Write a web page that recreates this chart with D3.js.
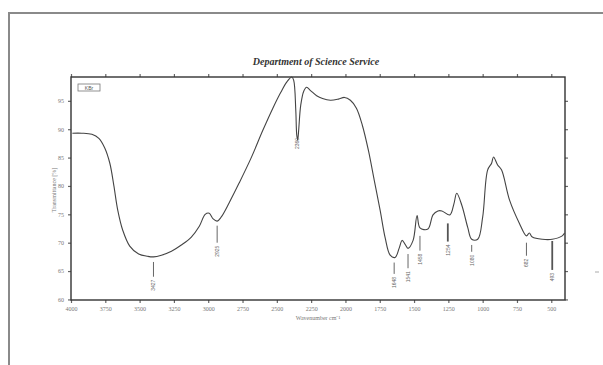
<!DOCTYPE html>
<html>
<head>
<meta charset="utf-8">
<script src="https://cdn.jsdelivr.net/npm/d3@7"></script>
<style>
  body { margin: 0; background: #fff; }
  svg { display: block; }
</style>
</head>
<body>
<div id="chart"></div>
<script>
// spectrum (wavenumber cm-1, transmittance %)
const wavenumber = [3990, 3920, 3848, 3797, 3754, 3717, 3688, 3659, 3623, 3572, 3507, 3442, 3399, 3341, 3268, 3196, 3123, 3065, 3022, 2993, 2964, 2935, 2906, 2848, 2775, 2688, 2602, 2529, 2471, 2428, 2391, 2377, 2362, 2355, 2348, 2341, 2326, 2304, 2283, 2254, 2210, 2167, 2109, 2051, 2007, 1964, 1920, 1877, 1833, 1790, 1747, 1710, 1674, 1638, 1609, 1587, 1565, 1544, 1507, 1478, 1457, 1399, 1362, 1326, 1297, 1239, 1210, 1189, 1152, 1109, 1080, 1036, 1000, 964, 935, 921, 891, 862, 804, 732, 681, 660, 638, 565, 493, 420, 403];
const transmittance = [89.3, 89.3, 89.1, 88.4, 86.7, 84.0, 80.1, 75.7, 72.2, 69.4, 68.0, 67.6, 67.5, 67.8, 68.5, 69.6, 71.0, 72.9, 75.0, 75.2, 74.2, 73.8, 74.5, 77.0, 80.5, 84.9, 89.8, 93.7, 96.5, 98.3, 99.2, 98.6, 93.4, 89.0, 88.1, 89.8, 94.2, 96.7, 97.4, 96.8, 95.9, 95.4, 95.1, 95.3, 95.6, 95.1, 93.7, 90.7, 86.3, 81.0, 75.7, 70.8, 67.8, 67.4, 69.0, 70.4, 69.7, 69.0, 70.4, 74.8, 72.6, 72.4, 74.9, 75.6, 75.6, 74.9, 76.8, 78.7, 76.6, 72.7, 70.6, 70.6, 74.5, 82.8, 84.0, 85.1, 83.7, 82.8, 77.5, 73.4, 71.2, 71.7, 71.0, 70.6, 70.6, 71.2, 71.7];

const xTicks = [4000, 3750, 3500, 3250, 3000, 2750, 2500, 2250, 2000, 1750, 1500, 1250, 1000, 750, 500];
const yTicks = [95, 90, 85, 80, 75, 70, 65, 60];

// peak labels: wavenumber, label, marker top/bottom in %
const peakWn = [3399, 2935, 2350, 1645, 1544, 1457, 1254, 1080, 681, 493];
const peakText = ["3427", "2925", "2360", "1648", "1541", "1458", "1254", "1080", "682", "493"];
const peakFrom = [66.6, 73.0, 89.0, 66.5, 68.0, 71.2, 73.4, 69.6, 70.0, 70.3];
const peakTo = [64.0, 70.0, 89.0, 64.5, 65.5, 68.6, 70.2, 68.4, 67.7, 65.2];

const W = 603, H = 365;
const svg = d3.select("#chart").append("svg")
  .attr("width", W).attr("height", H);

// scanned page frame
svg.append("path")
  .attr("d", "M9,365 L9,13 L603,13")
  .attr("fill", "none").attr("stroke", "#8a8a8a").attr("stroke-width", 2);

const pLeft = 71, pRight = 565, pTop = 77, pBottom = 300;
const x = d3.scaleLinear().domain([4000, 400]).range([pLeft, pRight]);
const y = d3.scaleLinear().domain([59.9, 99.2]).range([pBottom, pTop]);

svg.append("text")
  .attr("x", 316).attr("y", 65)
  .attr("text-anchor", "middle")
  .style("font-family", "Liberation Serif, serif")
  .style("font-style", "italic").style("font-weight", "bold")
  .style("font-size", "10px").attr("fill", "#333")
  .text("Department of Science Service");

const tickCol = "#666";
// bottom axis
svg.append("g").attr("transform", `translate(0,${pBottom})`)
  .call(d3.axisBottom(x).tickValues(xTicks).tickFormat(d3.format("d")).tickSize(3).tickPadding(4));
// top axis
svg.append("g").attr("transform", `translate(0,${pTop})`)
  .call(d3.axisTop(x).tickValues(xTicks).tickSize(3).tickFormat(""));
// left axis
svg.append("g").attr("transform", `translate(${pLeft},0)`)
  .call(d3.axisLeft(y).tickValues(yTicks).tickSize(3).tickPadding(4));
// right axis
svg.append("g").attr("transform", `translate(${pRight},0)`)
  .call(d3.axisRight(y).tickValues(yTicks).tickSize(3).tickFormat(""));

svg.selectAll(".domain").remove();
svg.selectAll(".tick line").attr("stroke", tickCol).attr("stroke-width", 1.2);
svg.selectAll(".tick text")
  .attr("fill", "#777").style("font-family", "Liberation Serif, serif").style("font-size", "6px");

// plot frame
svg.append("rect")
  .attr("x", pLeft).attr("y", pTop)
  .attr("width", pRight - pLeft).attr("height", pBottom - pTop)
  .attr("fill", "none").attr("stroke", "#333").attr("stroke-width", 1.4);

// axis titles
svg.append("text")
  .attr("x", 318).attr("y", 320).attr("text-anchor", "middle")
  .style("font-family", "Liberation Serif, serif").style("font-size", "6px")
  .attr("fill", "#777").text("Wavenumber cm\u207B\u00B9");
svg.append("text")
  .attr("transform", "translate(56,190) rotate(-90)").attr("text-anchor", "middle")
  .style("font-family", "Liberation Serif, serif").style("font-size", "6px")
  .attr("fill", "#777").text("Transmittance [%]");

// sample tag top-left
svg.append("rect").attr("x", 78).attr("y", 84).attr("width", 22).attr("height", 7)
  .attr("fill", "none").attr("stroke", "#777").attr("stroke-width", 0.8);
svg.append("text").attr("x", 89).attr("y", 90).attr("text-anchor", "middle")
  .style("font-family", "Liberation Sans, sans-serif").style("font-size", "5px")
  .attr("fill", "#555").text("KBr");

// spectrum
const pts = wavenumber.map((d, i) => [d, transmittance[i]]);
const line = d3.line().x(d => x(d[0])).y(d => y(d[1])).curve(d3.curveCatmullRom.alpha(0.5));
svg.append("path").datum(pts)
  .attr("d", line)
  .attr("fill", "none").attr("stroke", "#444").attr("stroke-width", 1.1);

// peak markers
const peaks = peakWn.map((d, i) => ({ wn: d, t: peakText[i], a: peakFrom[i], b: peakTo[i] }));
svg.selectAll(".pk").data(peaks).enter().append("line")
  .attr("x1", d => x(d.wn)).attr("x2", d => x(d.wn))
  .attr("y1", d => y(d.a)).attr("y2", d => y(d.b))
  .attr("stroke", "#555").attr("stroke-width", (d, i) => i === 9 || i === 6 ? 1.8 : 0.9);
svg.selectAll(".pl").data(peaks).enter().append("text")
  .attr("transform", d => `translate(${x(d.wn) + 2},${y(d.b) + 3}) rotate(-90)`)
  .attr("text-anchor", "end")
  .style("font-family", "Liberation Sans, sans-serif").style("font-size", "5px")
  .attr("fill", "#666").text(d => d.t);

// stray mark on scan
svg.append("line").attr("x1", 595).attr("x2", 599).attr("y1", 272).attr("y2", 272)
  .attr("stroke", "#aaa");
</script>
</body>
</html>
